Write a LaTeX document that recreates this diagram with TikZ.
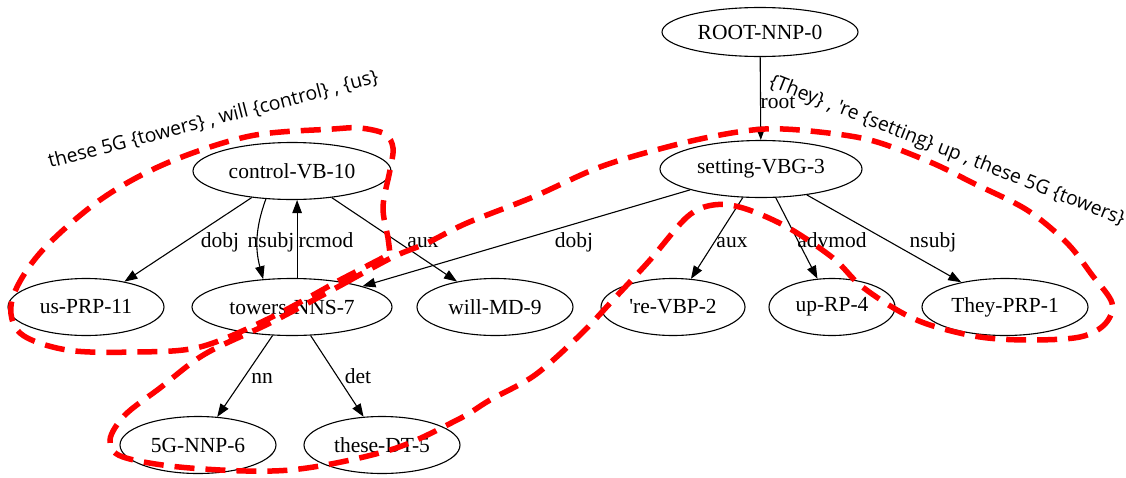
\documentclass[tikz,border=0pt]{standalone}
\usepackage{fontspec}
\setmainfont{Liberation Serif}[Ligatures=TeXOff]
\newfontfamily\hullfont{Open Sans}[Ligatures=TeXOff]
\usetikzlibrary{shapes.geometric,arrows.meta}
\begin{document}
\begin{tikzpicture}[x=1pt,y=-1pt,
  word/.style={ellipse, draw, line width=1.1pt, inner sep=0pt,
    minimum width=#1, minimum height=57pt,
    font=\fontsize{21.5}{24}\selectfont},
  word/.default=156pt,
  dep/.style={line width=1.1pt, -{Triangle[length=13pt,width=9.5pt]}},
  lab/.style={anchor=base, inner sep=0pt, font=\fontsize{21.5}{24}\selectfont},
  hull/.style={draw=red, line width=5.5pt, dash pattern=on 20pt off 11pt},
  hulltext/.style={anchor=base west, inner sep=0pt, font=\hullfont\fontsize{19.4}{22}\selectfont}]
\useasboundingbox (0,0) rectangle (1126,477);
\clip (0,0) rectangle (1126,477);

% words of the sentence
\node[word=196pt, minimum height=49pt] (root) at (760,32) {ROOT-NNP-0};
\node[word=202pt] (setting) at (761,169) {setting-VBG-3};
\node[word=198pt] (control) at (292,171) {control-VB-10};
\node[word=156pt] (us) at (86,307) {us-PRP-11};
\node[word=200pt] (towers) at (292,307) {towers-NNS-7};
\node[word=156pt] (will) at (495,307) {will-MD-9};
\node[word=144pt] (re) at (673,307) {'re-VBP-2};
\node[word=126pt] (up) at (832,307) {up-RP-4};
\node[word=166pt] (they) at (1005,307) {They-PRP-1};
\node[word=156pt] (fiveg) at (198,445) {5G-NNP-6};
\node[word=156pt] (these) at (382,445) {these-DT-5};

% dependency arcs
\draw[dep] (root) -- (setting);
\draw[dep] (setting) -- (towers);
\draw[dep] (setting) -- (re);
\draw[dep] (setting) -- (up);
\draw[dep] (setting) -- (they);
\draw[dep] (control) -- (us);
\draw[dep] (control.227) to[out=250, in=105] (towers.136);
\draw[dep] (towers.80) -- (towers.80 |- control.south);
\draw[dep] (control) -- (will);
\draw[dep] (towers) -- (fiveg);
\draw[dep] (towers) -- (these);

% arc labels
\node[lab] (l-root) at (778,108) {root};
\node[lab] (l-dobj1) at (574,247) {dobj};
\node[lab] (l-aux1) at (732,247) {aux};
\node[lab] (l-advmod) at (832,247) {advmod};
\node[lab] (l-nsubj1) at (933,247) {nsubj};
\node[lab] (l-dobj2) at (220,247) {dobj};
\node[lab] (l-nsubj2) at (271,247) {nsubj};
\node[lab] (l-rcmod) at (326,247) {rcmod};
\node[lab] (l-aux2) at (423,247) {aux};
\node[lab] (l-nn) at (262,383) {nn};
\node[lab] (l-det) at (358,383) {det};

% phrase hulls
\draw[hull] (338,281) -- plot[smooth, tension=0.55] coordinates {
  (390,254) (388,238) (383,207) (390,170) (393,148) (385,134) (360,128)
  (333,129) (250,136) (167,163) (100,200) (40,253) (12,300) (20,333)
  (67,350) (135,352) (200,347) (270,318) (338,281)};

\draw[hull] plot[smooth, tension=0.55] coordinates {
  (345,283) (393,257) (427,243) (467,223) (533,197) (600,167) (667,147)
  (720,135) (765,129) (810,131) (870,140) (930,162) (973,183) (1027,210)
  (1067,243) (1092,275) (1112,303) (1105,324) (1080,337) (1030,340)
  (980,337) (930,325) (897,310) (860,285) (833,258) (787,227) (743,208)
  (713,205) (687,217) (650,260) (613,300) (580,335) (535,375) (490,400)
  (457,420) (390,450) (290,470) (190,468) (123,457) (110,440) (125,415)
  (160,388) (205,354) (272,322) (345,283)};

% hull captions
\node[hulltext, rotate=14.5] (cap-left) at (50,168)
  {these 5G \{towers\} , will \{control\} , \{us\}};
\node[hulltext, rotate=-21.5] (cap-right) at (768,86)
  {\{They\} , 're \{setting\} up , these 5G \{towers\}};
\end{tikzpicture}
\end{document}
